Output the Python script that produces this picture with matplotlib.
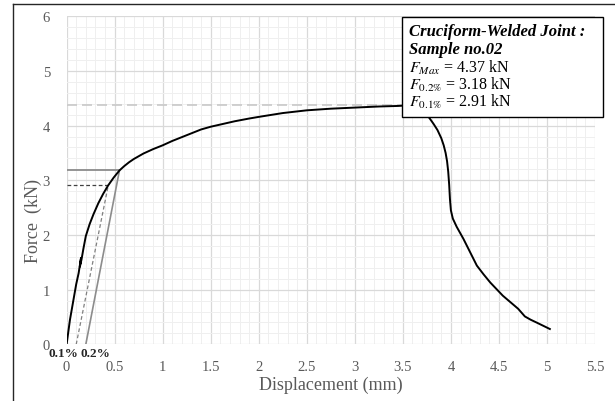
import matplotlib
matplotlib.use("Agg")
import matplotlib.pyplot as plt
from matplotlib.patches import Rectangle
from matplotlib.lines import Line2D
from matplotlib.ticker import MultipleLocator, FuncFormatter

plt.rcParams["mathtext.fontset"] = "stix"

# Force-displacement record of the test
displacement = [0.0, 0.035, 0.073, 0.10, 0.125, 0.15, 0.138, 0.155, 0.175, 0.20,
                0.24, 0.28, 0.33, 0.38, 0.43, 0.49, 0.55, 0.60, 0.65, 0.70,
                0.75, 0.80, 0.90, 1.00, 1.10, 1.20, 1.30, 1.40, 1.50, 1.60,
                1.75, 1.90, 2.00, 2.25, 2.50, 2.75, 3.00, 3.25, 3.45, 3.55,
                3.63, 3.69, 3.74, 3.78, 3.82, 3.86, 3.90, 3.925, 3.945, 3.96,
                3.972, 3.982, 3.99, 4.00, 4.02, 4.06, 4.13, 4.21, 4.27, 4.34,
                4.41, 4.54, 4.62, 4.70, 4.77, 4.83, 4.89, 4.96, 5.03]
force = [0.0, 0.45, 0.83, 1.10, 1.30, 1.58, 1.42, 1.55, 1.75, 1.98,
         2.20, 2.38, 2.58, 2.75, 2.90, 3.05, 3.18, 3.26, 3.33, 3.39,
         3.44, 3.49, 3.57, 3.64, 3.72, 3.79, 3.86, 3.93, 3.98, 4.02,
         4.08, 4.13, 4.16, 4.23, 4.28, 4.31, 4.33, 4.35, 4.36, 4.37,
         4.35, 4.30, 4.22, 4.13, 4.03, 3.92, 3.77, 3.64, 3.50, 3.35,
         3.16, 2.92, 2.66, 2.45, 2.30, 2.15, 1.93, 1.65, 1.44, 1.28,
         1.13, 0.89, 0.77, 0.65, 0.51, 0.45, 0.40, 0.34, 0.28]

# Offset-method values
f_max = 4.37
f_02 = 3.18
f_01 = 2.91
offset_02 = [0.2, 0.55]      # start / intersection displacement of the 0.2 % line
offset_01 = [0.1, 0.434]     # start / intersection displacement of the 0.1 % line
x_fmax_end = 3.5

x_ticks = [0, 0.5, 1, 1.5, 2, 2.5, 3, 3.5, 4, 4.5, 5, 5.5]
y_ticks = [0, 1, 2, 3, 4, 5, 6]

serif = ["Liberation Serif", "DejaVu Serif"]
grey_txt = "#595959"

fig = plt.figure(figsize=(6.15, 4.02), dpi=100)
ax = fig.add_axes([0.1083, 0.141, 0.8592, 0.816])

ax.set_xlim(0, 5.5)
ax.set_ylim(0, 6)
ax.set_xticks(x_ticks)
ax.set_yticks(y_ticks)
ax.xaxis.set_minor_locator(MultipleLocator(0.1))
ax.yaxis.set_minor_locator(MultipleLocator(0.2))
ax.grid(which="major", color="#d9d9d9", lw=0.9)
ax.grid(which="minor", color="#efefef", lw=0.7)
ax.set_axisbelow(True)
for s in ax.spines.values():
    s.set_visible(False)
ax.tick_params(which="both", length=0)
ax.tick_params(axis="x", pad=11, labelsize=10.5, labelcolor=grey_txt)
ax.tick_params(axis="y", pad=12, labelsize=10.5, labelcolor=grey_txt)
ax.xaxis.set_major_formatter(FuncFormatter(lambda v, p: f"{v:g}"))
ax.yaxis.set_major_formatter(FuncFormatter(lambda v, p: f"{v:g}"))
for lab in ax.get_xticklabels() + ax.get_yticklabels():
    lab.set_fontfamily(serif)

ax.set_xlabel("Displacement (mm)", fontsize=13, color=grey_txt,
              family=serif, labelpad=2)
ax.set_ylabel("Force  (kN)", fontsize=13, color=grey_txt, family=serif)
ax.yaxis.set_label_coords(-0.047, 0.38)

# maximum force level
ax.plot([0, x_fmax_end], [f_max, f_max], color="#c8c8c8", lw=1.2,
        ls=(0, (6, 3)), zorder=2)
# 0.2 % offset construction
ax.plot([0, offset_02[1]], [f_02, f_02], color="#8c8c8c", lw=1.3, zorder=2)
ax.plot(offset_02, [0, f_02], color="#8c8c8c", lw=1.2, zorder=2)
# 0.1 % offset construction
ax.plot([0, offset_01[1]], [f_01, f_01], color="#404040", lw=0.9,
        ls=(0, (3, 2)), zorder=2)
ax.plot(offset_01, [0, f_01], color="#808080", lw=0.9,
        ls=(0, (3, 2)), zorder=2)

# test curve
ax.plot(displacement, force, color="black", lw=1.4, zorder=3,
        solid_joinstyle="round")

ax.text(-0.03, -0.15, "0.1%", ha="center", va="center", fontsize=9.5,
        family=serif, fontweight="bold", color="#262626", clip_on=False)
ax.text(0.30, -0.15, "0.2%", ha="center", va="center", fontsize=9.5,
        family=serif, fontweight="bold", color="#262626", clip_on=False)

# outer frame lines
fig.add_artist(Line2D([13 / 615, 1.0], [1 - 5 / 402, 1 - 5 / 402],
                      color="#262626", lw=1.0))
fig.add_artist(Line2D([13 / 615, 13 / 615], [0.0, 1 - 5 / 402],
                      color="#262626", lw=1.0))

# result box
bx0, bx1 = 401.7 / 615, 602.7 / 615
by0, by1 = 1 - 117.7 / 402, 1 - 18.3 / 402
fig.add_artist(Rectangle((bx0, by0), bx1 - bx0, by1 - by0,
                         transform=fig.transFigure, facecolor="white",
                         edgecolor="black", lw=1.0, zorder=5))
tx = 409 / 615
fig.text(tx, 1 - 32 / 402, "Cruciform-Welded Joint :", fontsize=12,
         family=serif, fontweight="bold", style="italic", va="center",
         zorder=6)
fig.text(tx, 1 - 50 / 402, "Sample no.02", fontsize=12, family=serif,
         fontweight="bold", style="italic", va="center", zorder=6)
lines = [(r"$F_{Max}$", f_max), (r"$F_{0.2\%}$", f_02), (r"$F_{0.1\%}$", f_01)]
ys = [68, 85, 102]
for (sym, val), yy in zip(lines, ys):
    fig.text(tx, 1 - yy / 402, f"{sym} = {val:.2f} kN", fontsize=11.5,
             family=serif, va="center", zorder=6)

fig.savefig("out.png", dpi=100)
